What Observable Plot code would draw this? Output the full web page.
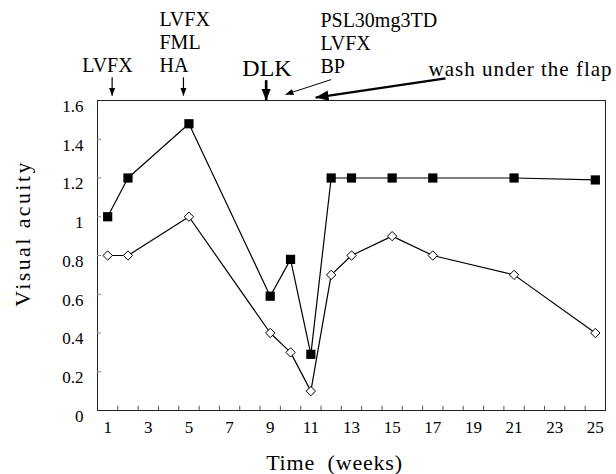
<!DOCTYPE html>
<html>
<head>
<meta charset="utf-8">
<script src="https://cdn.jsdelivr.net/npm/d3@7"></script>
<script src="https://cdn.jsdelivr.net/npm/@observablehq/plot@0.6"></script>
<style>
  html, body { margin: 0; padding: 0; background: white; }
  svg text { font-family: "Liberation Serif", serif; }
</style>
</head>
<body>
<div id="chart"></div>
<script>
// ---- data ----
const weeks = [1, 2, 5, 9, 10, 11, 12, 13, 15, 17, 21, 25];
const squareValues = [1.0, 1.2, 1.48, 0.59, 0.78, 0.29, 1.2, 1.2, 1.2, 1.2, 1.2, 1.19];
const diamondValues = [0.8, 0.8, 1.0, 0.4, 0.3, 0.1, 0.7, 0.8, 0.9, 0.8, 0.7, 0.4];
const xTickLabels = [1, 3, 5, 7, 9, 11, 13, 15, 17, 19, 21, 23, 25];
const yTickLabels = [0, 0.2, 0.4, 0.6, 0.8, 1, 1.2, 1.4, 1.6];
const xMinorTicks = d3.range(1.5, 25, 1);
const yMinorTicks = [0.2, 0.4, 0.6, 0.8, 1, 1.2, 1.4];

// annotations (treatment events)
const firstTreatment = "LVFX";
const secondTreatment = "LVFX\nFML\nHA";
const thirdTreatment = "PSL30mg3TD\nLVFX\nBP";
const downArrowWeeks = [1.22, 4.73];

const rows = weeks.map((w, i) => ({week: w, square: squareValues[i], diamond: diamondValues[i]}));

function filledHead(size) {
  return (color) => {
    const m = d3.create("svg:marker")
      .attr("viewBox", "-10 -5 10 10")
      .attr("markerUnits", "userSpaceOnUse")
      .attr("markerWidth", size)
      .attr("markerHeight", size)
      .attr("refX", 0)
      .attr("refY", 0)
      .attr("orient", "auto")
      .attr("fill", color)
      .attr("stroke", "none");
    m.append("path").attr("d", "M-10,-4L0,0L-10,4Z");
    return m.node();
  };
}

const serif = "Liberation Serif";

const chart = Plot.plot({
  width: 616,
  height: 474,
  marginTop: 100,
  marginBottom: 64,
  marginLeft: 97,
  marginRight: 11,
  style: {fontFamily: serif, fontSize: "17px", background: "white", color: "black"},
  x: {domain: [0.5, 25.5], axis: null},
  y: {domain: [0, 1.6], axis: null},
  marks: [
    Plot.frame({stroke: "#222", strokeWidth: 1}),
    Plot.ruleX(xMinorTicks, {x: d => d, y1: 0, y2: 0.022, stroke: "#555"}),
    Plot.ruleY(yMinorTicks, {y: d => d, x1: 0.5, x2: 0.7, stroke: "#888"}),
    // tick labels
    Plot.text(xTickLabels, {x: d => d, frameAnchor: "bottom", lineAnchor: "bottom", dy: 22, text: d => String(d), fontSize: 17, fontFamily: serif}),
    Plot.text(yTickLabels, {y: d => d, frameAnchor: "left", textAnchor: "end", dx: -14, dy: 6, text: d => String(d), fontSize: 17, fontFamily: serif}),
    // axis titles
    Plot.text(["Time\u00a0\u00a0(weeks)"], {frameAnchor: "bottom", dx: -17, dy: 59, text: d => d, fontSize: 22, fontFamily: serif}),
    Plot.text(["Visual acuity"], {frameAnchor: "left", textAnchor: "middle", rotate: -90, dx: -75, dy: -22, text: d => d, fontSize: 22, fontFamily: serif}),
    // series
    Plot.line(rows, {x: "week", y: "diamond", stroke: "black", strokeWidth: 1.2}),
    Plot.line(rows, {x: "week", y: "square", stroke: "black", strokeWidth: 1.2}),
    Plot.dot(rows, {x: "week", y: "diamond", symbol: "diamond2", r: 4.2, fill: "white", stroke: "black", strokeWidth: 1}),
    Plot.dot(rows, {x: "week", y: "square", symbol: "square", r: 5.2, fill: "black", stroke: "none"}),
    // annotations
    Plot.text([firstTreatment], {x: 0.99, y: 1.745, text: d => d, textAnchor: "middle", lineAnchor: "bottom", fontSize: 20, fontFamily: serif, clip: false}),
    Plot.text([secondTreatment], {x: 3.55, y: 1.745, text: d => d, textAnchor: "start", lineAnchor: "bottom", lineHeight: 1.15, fontSize: 20, fontFamily: serif, clip: false}),
    Plot.text([thirdTreatment], {x: 11.47, y: 1.74, text: d => d, textAnchor: "start", lineAnchor: "bottom", lineHeight: 1.15, fontSize: 20, fontFamily: serif, clip: false}),
    Plot.text(["DLK"], {x: 8.84, y: 1.729, text: d => d, fontSize: 24, lineAnchor: "bottom", fontFamily: serif, clip: false}),
    Plot.text(["wash under the flap"], {x: 16.79, y: 1.729, text: d => d, textAnchor: "start", lineAnchor: "bottom", fontSize: 21, fontFamily: serif, clip: false}),
    Plot.link(downArrowWeeks, {x1: d => d, x2: d => d, y1: 1.72, y2: 1.625, stroke: "black", strokeWidth: 1.2, markerEnd: filledHead(8)}),
    Plot.link([8.8], {x1: d => d, x2: d => d, y1: 1.705, y2: 1.6, stroke: "black", strokeWidth: 2.6, markerEnd: filledHead(12)}),
    Plot.link([12.0], {x1: d => d, x2: 9.75, y1: 1.708, y2: 1.631, stroke: "black", strokeWidth: 1, markerEnd: filledHead(8)}),
    Plot.link([17.63], {x1: d => d, x2: 11.23, y1: 1.714, y2: 1.615, stroke: "black", strokeWidth: 2.4, markerEnd: filledHead(13)})
  ]
});

d3.select(chart).selectAll("text").each(function() {
  const t = this.textContent;
  if (t === "Visual acuity") this.setAttribute("letter-spacing", "2.4");
  if (t.startsWith("Time")) this.setAttribute("letter-spacing", "0.8");
  if (t === "wash under the flap") this.setAttribute("letter-spacing", "1");
});

document.getElementById("chart").appendChild(chart);
</script>
</body>
</html>
